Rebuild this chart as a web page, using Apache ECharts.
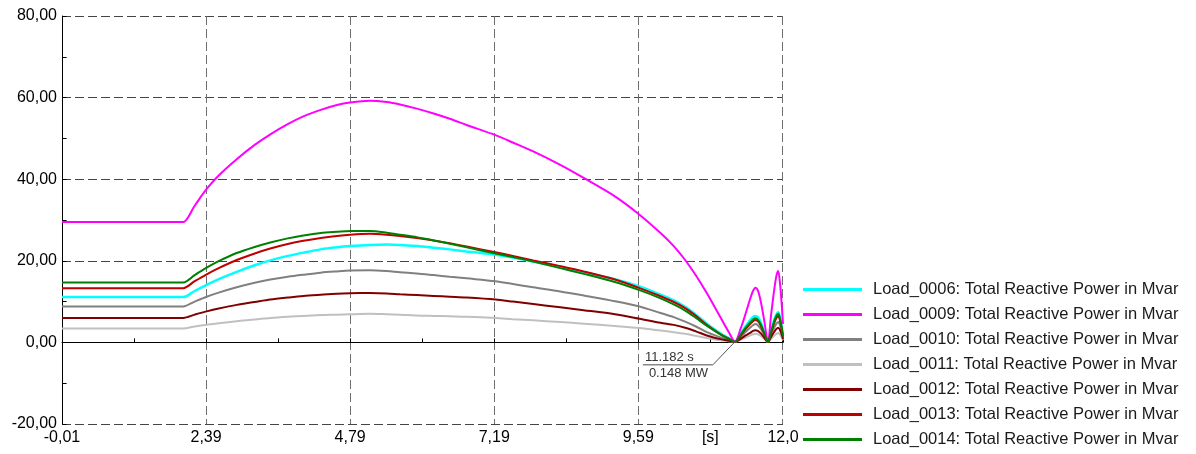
<!DOCTYPE html>
<html>
<head>
<meta charset="utf-8">
<script src="https://cdn.jsdelivr.net/npm/echarts@6.0.0/dist/echarts.min.js"></script>
<style>
html,body{margin:0;padding:0;background:#fff;}
#chart{width:1196px;height:454px;}
</style>
</head>
<body>
<div id="chart"></div>
<script>
// time axis [s], shared by all curves
const timeS = [-0.01, 1.9, 2.01, 2.2, 2.4, 2.6, 2.9, 3.2, 3.46, 3.75, 4.01, 4.3, 4.57, 4.79, 5.12, 5.4, 5.62, 5.9, 6.18, 6.45, 6.73,
  7.21, 7.5, 7.84, 8.29, 8.68, 9.2, 9.61, 9.96, 10.18, 10.37, 10.55, 10.73, 10.96, 11.1, 11.2, 11.3, 11.38, 11.46, 11.5, 11.54,
  11.58, 11.63, 11.68, 11.75, 11.8, 11.85, 11.89, 11.92, 11.95, 11.98, 12.0];

// reactive power [Mvar]
const load0006 = [11.1, 11.1, 11.1, 12.6, 14.1, 15.5, 17.3, 18.9, 20.1, 21.2, 22.0, 22.8, 23.3, 23.6, 23.9, 24.0, 23.9, 23.6, 23.2, 22.8, 22.3,
  21.5, 20.8, 19.8, 18.5, 17.2, 15.5, 13.7, 11.7, 10.3, 8.7, 6.8, 4.6, 2.2, 1.0, 0.1, 2.2, 4.0, 5.6, 6.2, 6.5,
  6.2, 4.9, 2.9, 0.1, 2.8, 5.4, 6.9, 7.4, 6.2, 3.8, 1.6];
const load0009 = [29.5, 29.5, 29.5, 33.5, 37.6, 40.9, 44.9, 48.4, 51.0, 53.5, 55.4, 57.0, 58.2, 58.8, 59.2, 58.9, 58.3, 57.3, 56.1, 54.8, 53.3,
  50.8, 49.0, 46.8, 43.5, 40.3, 35.8, 31.3, 26.8, 23.6, 20.2, 16.4, 12.1, 6.1, 2.4, 0.2, 3.6, 7.2, 11.0, 12.6, 13.4,
  12.8, 10.0, 6.0, 0.2, 6.5, 12.5, 16.3, 17.5, 14.5, 9.0, 4.5];
const load0010 = [8.8, 8.8, 8.8, 10.0, 11.2, 12.2, 13.5, 14.6, 15.4, 16.1, 16.6, 17.1, 17.4, 17.6, 17.7, 17.5, 17.2, 16.9, 16.5, 16.1, 15.7,
  15.0, 14.3, 13.5, 12.5, 11.5, 10.1, 8.8, 7.2, 6.2, 5.1, 3.9, 2.5, 1.2, 0.5, 0.1, 1.4, 2.6, 3.7, 4.2, 4.5,
  4.2, 3.3, 2.0, 0.1, 1.8, 3.5, 4.6, 5.0, 4.2, 2.5, 1.1];
const load0011 = [3.4, 3.4, 3.4, 3.9, 4.3, 4.7, 5.2, 5.6, 6.0, 6.3, 6.5, 6.7, 6.8, 6.9, 7.0, 6.9, 6.8, 6.6, 6.5, 6.4, 6.3,
  6.0, 5.7, 5.4, 5.0, 4.6, 4.0, 3.5, 2.9, 2.5, 2.1, 1.6, 1.1, 0.5, 0.3, 0.1, 0.7, 1.2, 1.7, 2.0, 2.1,
  2.0, 1.6, 1.0, 0.1, 0.8, 1.6, 2.1, 2.3, 1.9, 1.2, 0.5];
const load0012 = [6.0, 6.0, 6.0, 6.8, 7.6, 8.3, 9.2, 9.9, 10.5, 11.0, 11.4, 11.7, 11.95, 12.05, 12.1, 12.0, 11.8, 11.6, 11.4, 11.2, 11.0,
  10.5, 10.0, 9.4, 8.6, 7.9, 6.9, 5.8, 4.8, 4.3, 3.6, 2.7, 1.7, 0.8, 0.4, 0.1, 0.9, 1.7, 2.4, 2.8, 3.0,
  2.8, 2.2, 1.3, 0.1, 1.3, 2.5, 3.3, 3.6, 3.0, 1.8, 0.8];
const load0013 = [13.3, 13.3, 13.3, 15.0, 16.7, 18.2, 20.2, 21.8, 23.0, 24.1, 24.9, 25.6, 26.1, 26.4, 26.6, 26.4, 26.1, 25.6, 25.0, 24.3, 23.5,
  22.1, 21.2, 20.1, 18.7, 17.4, 15.4, 13.3, 11.3, 9.9, 8.4, 6.5, 4.3, 2.0, 0.9, 0.1, 1.8, 3.3, 4.6, 5.2, 5.5,
  5.2, 4.1, 2.4, 0.1, 2.3, 4.6, 6.0, 6.5, 5.4, 3.2, 1.4];
const load0014 = [14.7, 14.7, 14.7, 16.5, 18.3, 19.9, 21.9, 23.4, 24.5, 25.5, 26.2, 26.8, 27.1, 27.3, 27.3, 26.9, 26.4, 25.8, 25.0, 24.2, 23.3,
  21.8, 20.9, 19.8, 18.2, 16.8, 14.8, 12.8, 10.8, 9.3, 7.8, 6.0, 4.1, 1.9, 0.8, 0.1, 2.0, 3.6, 5.0, 5.6, 5.9,
  5.6, 4.4, 2.6, 0.1, 2.5, 5.0, 6.5, 7.0, 5.8, 3.5, 1.5];

const seriesNames = [
  'Load_0006: Total Reactive Power in Mvar',
  'Load_0009: Total Reactive Power in Mvar',
  'Load_0010: Total Reactive Power in Mvar',
  'Load_0011: Total Reactive Power in Mvar',
  'Load_0012: Total Reactive Power in Mvar',
  'Load_0013: Total Reactive Power in Mvar',
  'Load_0014: Total Reactive Power in Mvar'
];
const seriesData = [load0006, load0009, load0010, load0011, load0012, load0013, load0014];
const seriesColors = ['#00ffff', '#ff00ff', '#808080', '#c0c0c0', '#800000', '#c00000', '#008000'];

const xTickValues = [-0.01, 2.39, 4.79, 7.19, 9.59, 10.79, 12.0];
const xTickLabels = ['-0,01', '2,39', '4,79', '7,19', '9,59', '[s]', '12,0'];

// cursor readout
const cursorT = 11.182, cursorV = 0.148;
const cursorLabels = ['11.182 s', '0.148 MW'];

const font = '"Liberation Sans", Arial, sans-serif';
const chart = echarts.init(document.getElementById('chart'));

const series = seriesData.map((vals, i) => ({
  name: seriesNames[i],
  type: 'line',
  data: timeS.map((t, k) => [t, vals[k]]),
  showSymbol: false,
  smooth: 0.3,
  color: seriesColors[i],
  lineStyle: { width: i === 0 ? 2.5 : 2, color: seriesColors[i] },
  z: 2 + i
}));

chart.setOption({
  animation: false,
  grid: { left: 62, right: 413, top: 16, bottom: 30 },
  legend: {
    orient: 'vertical',
    left: 803,
    top: 281,
    padding: 0,
    icon: 'rect',
    itemWidth: 59,
    itemHeight: 3,
    itemGap: 8,
    textStyle: { fontFamily: font, fontSize: 16.5, lineHeight: 17, color: '#1a1a1a', padding: [0, 0, 0, 6] },
    data: seriesNames
  },
  xAxis: {
    type: 'value',
    min: -0.01,
    max: 12.0,
    interval: 2.4,
    axisLine: { show: true, lineStyle: { color: '#000', width: 1 } },
    axisTick: { show: true, inside: true, length: 4, lineStyle: { color: '#000' } },
    minorTick: { show: true, splitNumber: 2, length: 4, lineStyle: { color: '#000' } },
    splitLine: { show: true, showMaxLine: false, lineStyle: { color: '#6e6e6e', type: [9, 4], width: 1 } },
    axisLabel: {
      customValues: xTickValues,
      fontFamily: font, fontSize: 16, color: '#000', margin: 6,
      formatter: v => {
        const k = xTickValues.findIndex(x => Math.abs(x - v) < 1e-6);
        return k >= 0 ? xTickLabels[k] : '';
      }
    }
  },
  yAxis: {
    type: 'value',
    min: -20,
    max: 80,
    interval: 20,
    axisLine: { show: true, lineStyle: { color: '#000', width: 1 } },
    axisTick: { show: true, inside: true, length: 4, lineStyle: { color: '#000' } },
    minorTick: { show: true, splitNumber: 2, length: 4, lineStyle: { color: '#000' } },
    splitLine: { show: true, lineStyle: { color: '#454545', type: [9, 4], width: 1 } },
    axisLabel: {
      fontFamily: font, fontSize: 16, color: '#000', margin: 5,
      formatter: v => v.toFixed(2).replace('.', ',')
    }
  },
  series: series
});

// cursor annotation, anchored on the data point
const p = chart.convertToPixel({ xAxisIndex: 0, yAxisIndex: 0 }, [cursorT, cursorV]);
chart.setOption({
  graphic: [
    { type: 'line', shape: { x1: p[0] + 2, y1: p[1] - 1, x2: p[0] - 21, y2: p[1] + 23 }, style: { stroke: '#555', lineWidth: 1 }, z: 20 },
    { type: 'line', shape: { x1: p[0] - 91, y1: p[1] + 23, x2: p[0] - 21, y2: p[1] + 23 }, style: { stroke: '#888', lineWidth: 1.5 }, z: 20 },
    { type: 'text', x: p[0] - 89, y: p[1] + 22, style: { text: cursorLabels[0], font: '13px ' + font, fill: '#333', textVerticalAlign: 'bottom' }, z: 20 },
    { type: 'text', x: p[0] - 85, y: p[1] + 25, style: { text: cursorLabels[1], font: '13px ' + font, fill: '#333', textVerticalAlign: 'top' }, z: 20 }
  ]
});
</script>
</body>
</html>
